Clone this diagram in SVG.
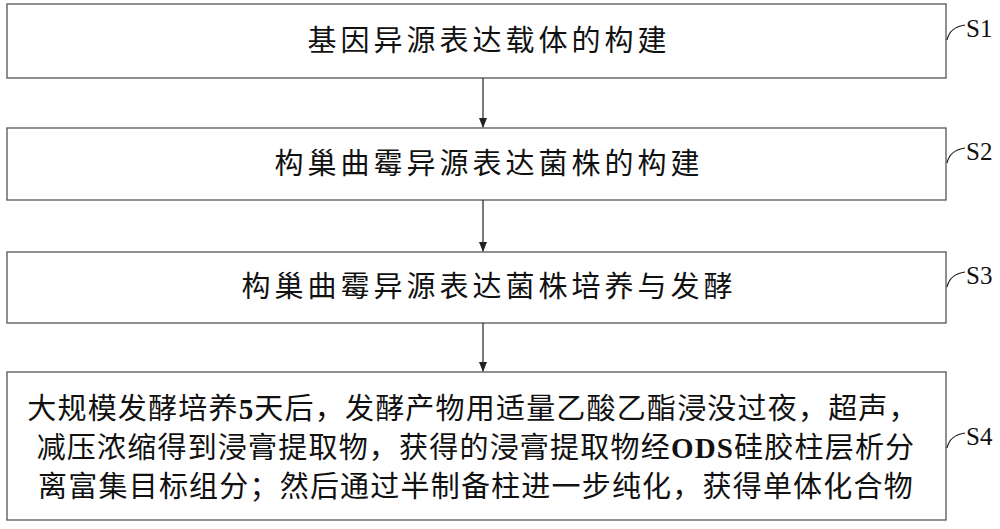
<svg xmlns="http://www.w3.org/2000/svg" width="1000" height="529" viewBox="0 0 1000 529">
<style>
.b{fill:#fff;stroke:#555;stroke-width:1.3}
.t{font-family:"Liberation Serif","Noto Sans CJK SC",serif;font-size:29px;fill:#111}
.h{letter-spacing:4px}
.m{letter-spacing:1.2px}
.l{font-family:"Liberation Serif",serif;font-size:25px;fill:#111}
.c{fill:none;stroke:#222;stroke-width:1.2}
</style>
<defs><marker id="a" markerWidth="10" markerHeight="10" refX="9" refY="5" orient="auto" markerUnits="userSpaceOnUse"><path d="M0,1 L10,5 L0,9 Z" fill="#222"/></marker></defs>
<rect width="1000" height="529" fill="#fff"/>
<g id="s1"><rect class="b" x="7" y="4" width="939" height="74"/><text class="t h" x="489" y="51" text-anchor="middle">基因异源表达载体的构建</text><path class="c" d="M947,40 Q950,27 965,25"/><text class="l" x="966" y="37">S1</text></g>
<g id="s2"><rect class="b" x="7" y="128" width="939" height="72"/><text class="t h" x="489" y="174" text-anchor="middle">构巢曲霉异源表达菌株的构建</text><path class="c" d="M947,163 Q950,150 965,148"/><text class="l" x="966" y="160">S2</text></g>
<g id="s3"><rect class="b" x="7" y="252" width="939" height="71"/><text class="t h" x="489" y="297" text-anchor="middle">构巢曲霉异源表达菌株培养与发酵</text><path class="c" d="M947,287 Q950,274 965,272"/><text class="l" x="966" y="284">S3</text></g>
<g id="s4"><rect class="b" x="7" y="372" width="939" height="148"/><text class="t m" x="473" y="419" text-anchor="middle">大规模发酵培养<tspan font-weight="bold">5</tspan>天后，发酵产物用适量乙酸乙酯浸没过夜，超声，</text><text class="t m" x="476" y="458" text-anchor="middle">减压浓缩得到浸膏提取物，获得的浸膏提取物经<tspan font-weight="bold">ODS</tspan>硅胶柱层析分</text><text class="t m" x="476" y="497" text-anchor="middle">离富集目标组分；然后通过半制备柱进一步纯化，获得单体化合物</text><path class="c" d="M947,448 Q950,435 965,433"/><text class="l" x="966" y="445">S4</text></g>
<g id="connectors">
<line class="c" x1="483" y1="78" x2="483" y2="127" marker-end="url(#a)"/>
<line class="c" x1="483" y1="200" x2="483" y2="251" marker-end="url(#a)"/>
<line class="c" x1="483" y1="323" x2="483" y2="371" marker-end="url(#a)"/>
</g>
</svg>
